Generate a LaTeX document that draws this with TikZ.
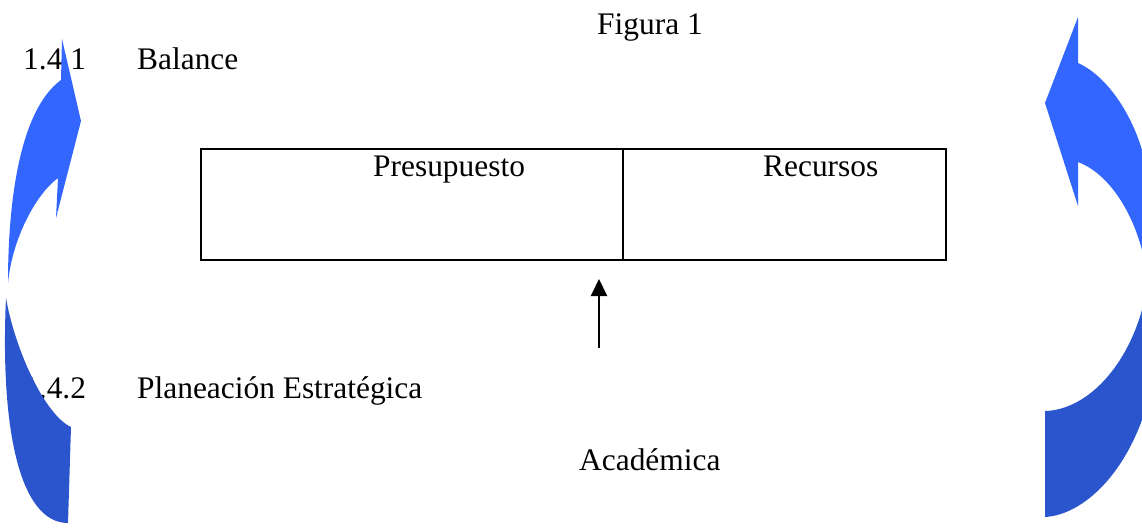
\documentclass[tikz,border=0pt]{standalone}
\usepackage{fontspec}
\setmainfont{Liberation Serif}
\usetikzlibrary{arrows.meta}
\definecolor{lightblue}{HTML}{3366FF}
\definecolor{darkblue}{HTML}{2A55CC}
\begin{document}
\begin{tikzpicture}[x=1pt,y=-1pt,
  txt/.style={anchor=base west,inner sep=0pt,font=\fontsize{31.4}{36}\selectfont},
  cell/.style={draw,line width=2pt,anchor=north west,inner sep=0pt,minimum height=111pt},
  upperpart/.style={fill=lightblue,draw=none},
  lowerpart/.style={fill=darkblue,draw=none}]
\useasboundingbox (0,0) rectangle (1142,529);
% texts
\node[txt] (fig) at (597,35) {Figura 1};
\node[txt] (n141) at (23,70) {1.4.1};
\node[txt] (bal) at (137,70) {Balance};
\node[txt] (n142) at (23,398) {1.4.2};
\node[txt] (plan) at (137,398) {Planeación Estratégica};
\node[txt] (acad) at (579,470) {Académica};
% box
\node[cell,minimum width=422pt] (pcell) at (200,148) {};
\node[cell,minimum width=323pt] (rcell) at (622,148) {};
\node[txt] (pres) at (373,177) {Presupuesto};
\node[txt] (rec) at (763,177) {Recursos};
% arrow
\coordinate (arrfrom) at (599,348);
\coordinate (arrto) at (599,279);
\draw[line width=2pt,-{Triangle[length=17pt,width=16pt]}] (arrfrom) -- (arrto);
% left curved arrow
\fill[upperpart] (8,283) .. controls (8,200) and (20,110) .. (61,80)
  -- (62,39) -- (81,121) -- (56,218) -- (58,178)
  .. controls (35,195) and (12,240) .. (8,283) -- cycle;
\fill[lowerpart] (6,298) .. controls (0,430) and (20,523) .. (68,523)
  -- (71,427) .. controls (45,415) and (15,350) .. (6,298) -- cycle;
% right curved arrow
\fill[upperpart] (1078,63) .. controls (1105,75) and (1130,110) .. (1142,150)
  -- (1142,250) .. controls (1130,205) and (1105,172) .. (1078,162)
  -- (1078,206) -- (1045,103) -- (1078,17) -- cycle;
\fill[lowerpart] (1142,310) .. controls (1125,370) and (1085,410) .. (1045,411)
  -- (1045,517) .. controls (1080,515) and (1120,480) .. (1142,420) -- cycle;
\end{tikzpicture}
\end{document}
